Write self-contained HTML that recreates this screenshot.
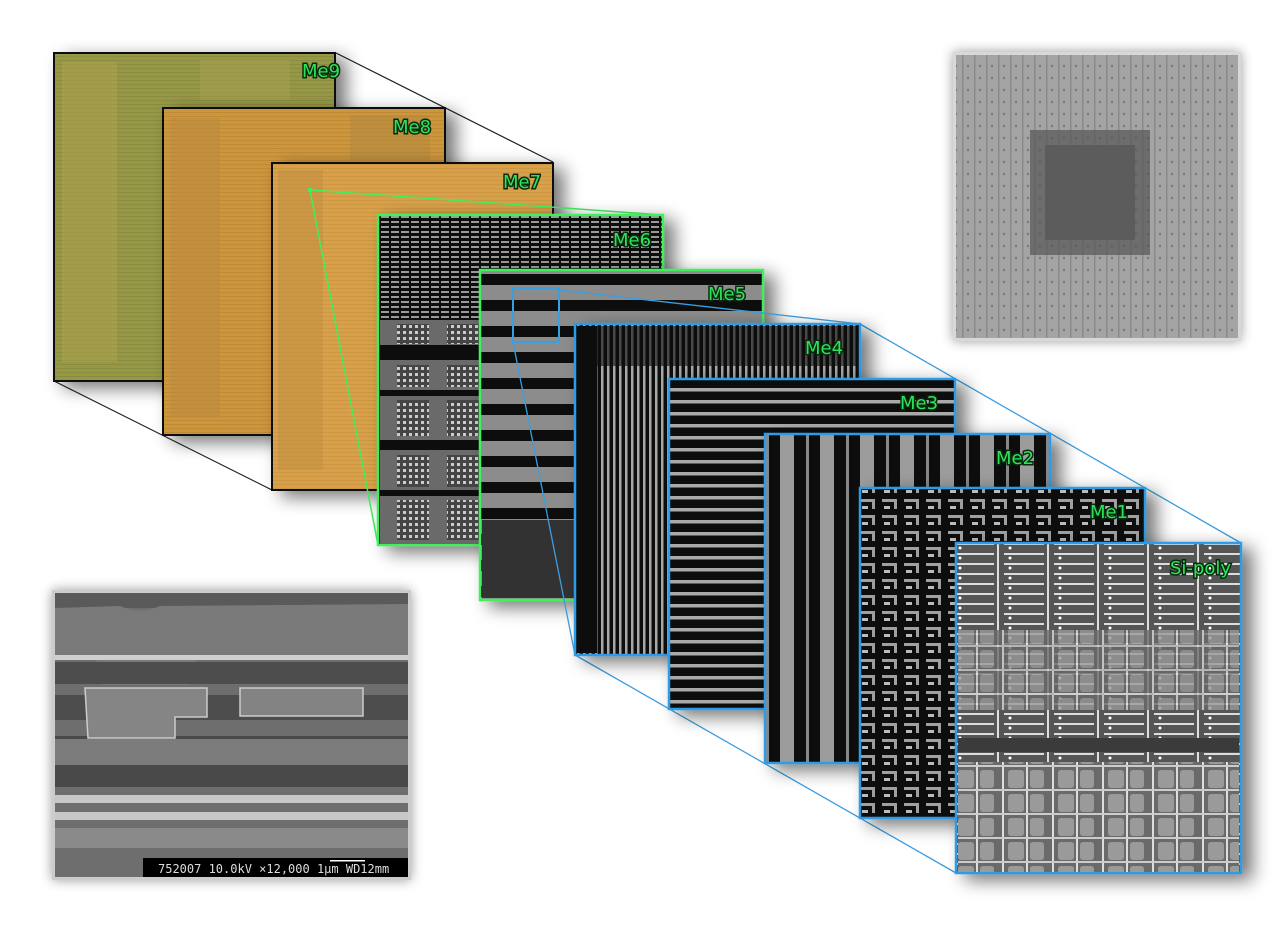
<!DOCTYPE html>
<html><head><meta charset="utf-8"><style>
html,body{margin:0;padding:0;background:#fff;}
svg{display:block;}
text{font-family:"DejaVu Sans","Liberation Sans",sans-serif;font-size:18px;fill:#2ee35a;stroke:#0a2a10;stroke-width:3px;paint-order:stroke;}
</style></head><body>
<svg width="1280" height="940" viewBox="0 0 1280 940" xmlns="http://www.w3.org/2000/svg">
<defs>
<filter id="sh" x="-20%" y="-20%" width="150%" height="150%"><feGaussianBlur in="SourceAlpha" stdDeviation="9"/><feOffset dx="10" dy="6"/><feComponentTransfer><feFuncA type="linear" slope="0.55"/></feComponentTransfer><feMerge><feMergeNode/><feMergeNode in="SourceGraphic"/></feMerge></filter>
<filter id="sh2" x="-10%" y="-10%" width="120%" height="120%"><feGaussianBlur in="SourceAlpha" stdDeviation="6"/><feComponentTransfer><feFuncA type="linear" slope="0.4"/></feComponentTransfer><feMerge><feMergeNode/><feMergeNode in="SourceGraphic"/></feMerge></filter>
<pattern id="grid9" width="4" height="4" patternUnits="userSpaceOnUse"><rect width="4" height="4" fill="#979845"/><rect width="4" height="1" fill="#8a8c40"/></pattern>
<pattern id="grid8" width="4" height="4" patternUnits="userSpaceOnUse"><rect width="4" height="4" fill="#cc963c"/><rect width="4" height="1" fill="#c08a36"/></pattern>
<pattern id="grid7" width="4" height="4" patternUnits="userSpaceOnUse"><rect width="4" height="4" fill="#d8a148"/><rect width="4" height="1" fill="#cc9642"/></pattern>
<pattern id="p6" width="10" height="5" patternUnits="userSpaceOnUse"><rect width="10" height="5" fill="#111"/><rect x="1" y="1" width="8" height="2" fill="#9a9a9a"/></pattern>
<pattern id="dots" width="6" height="6" patternUnits="userSpaceOnUse"><rect width="6" height="6" fill="#444"/><rect x="1" y="1" width="3" height="3" fill="#ccc"/></pattern>
<pattern id="p5" width="285" height="26" patternUnits="userSpaceOnUse"><rect width="285" height="26" fill="#8c8c8c"/><rect y="14" width="285" height="11" fill="#0a0a0a"/></pattern>
<pattern id="p4" width="6" height="10" patternUnits="userSpaceOnUse"><rect width="6" height="10" fill="#080808"/><rect x="1" width="2.5" height="10" fill="#a8a8a8"/></pattern>
<pattern id="p3" width="12" height="12" patternUnits="userSpaceOnUse"><rect width="12" height="12" fill="#080808"/><rect y="4" width="12" height="3.5" fill="#aaa"/></pattern>
<pattern id="p2" width="40" height="10" patternUnits="userSpaceOnUse"><rect width="40" height="10" fill="#080808"/><rect x="20" width="14" height="10" fill="#9c9c9c"/><rect x="6" width="3" height="10" fill="#888"/></pattern>
<pattern id="p1" width="22" height="16" patternUnits="userSpaceOnUse"><rect width="22" height="16" fill="#0c0c0c"/><rect x="2" y="3" width="12" height="3" fill="#a0a0a0"/><rect x="14" y="3" width="3" height="10" fill="#a0a0a0"/><rect x="4" y="10" width="6" height="3" fill="#bbb"/></pattern>
<pattern id="ps" width="50" height="24" patternUnits="userSpaceOnUse"><rect width="50" height="24" fill="#6a6a6a"/><rect x="8" y="2" width="16" height="18" rx="3" fill="#9a9a9a"/><rect x="30" y="2" width="14" height="18" rx="3" fill="#9a9a9a"/><rect x="2" width="2" height="24" fill="#ddd"/><rect x="26" width="2" height="24" fill="#ddd"/><rect y="21" width="50" height="2" fill="#ccc"/></pattern>
<pattern id="pst" width="50" height="10" patternUnits="userSpaceOnUse"><rect width="50" height="10" fill="#555"/><rect x="4" y="3" width="40" height="2" fill="#ddd"/><circle cx="10" cy="8" r="1.5" fill="#fff"/><rect x="47" width="2" height="10" fill="#ddd"/></pattern>
<pattern id="pcb" width="12" height="12" patternUnits="userSpaceOnUse"><rect width="12" height="12" fill="#a4a4a4"/><rect x="2" width="1.5" height="12" fill="#8a8a8a"/><circle cx="8" cy="6" r="1.2" fill="#777"/></pattern>
</defs>

<!-- chip photo -->
<g filter="url(#sh2)">
<rect x="953" y="52" width="288" height="289" fill="#d8d8d8"/>
<rect x="956" y="55" width="282" height="283" fill="url(#pcb)"/>
<rect x="1030" y="130" width="120" height="125" fill="#555" opacity="0.7"/>
<rect x="1045" y="145" width="90" height="95" fill="#5c5c5c"/>
</g>

<!-- SEM -->
<g filter="url(#sh2)">
<rect x="52" y="590" width="359" height="290" fill="#ccc"/>
<rect x="55" y="593" width="353" height="284" fill="#6e6e6e"/>
<rect x="55" y="593" width="353" height="15" fill="#5a5a5a"/>
<path d="M55 608 L120 606 Q140 615 160 606 L408 604 L408 655 L198 655 L190 685 L102 685 L95 655 L55 655Z" fill="#7a7a7a"/>
<rect x="55" y="655" width="353" height="5" fill="#cfcfcf"/>
<rect x="55" y="662" width="353" height="22" fill="#4e4e4e"/>
<rect x="55" y="695" width="353" height="25" fill="#4e4e4e"/>
<rect x="55" y="736" width="353" height="20" fill="#4a4a4a"/>
<path d="M85 688 L207 688 L207 717 L175 717 L175 738 L88 738 Z" fill="#858585" stroke="#ccc" stroke-width="1.5"/>
<rect x="240" y="688" width="123" height="28" fill="#838383" stroke="#ccc" stroke-width="1.5"/>
<rect x="55" y="739" width="353" height="46" fill="#7c7c7c"/>
<rect x="55" y="765" width="353" height="22" fill="#4a4a4a"/>
<rect x="55" y="795" width="353" height="8" fill="#ddd" opacity="0.8"/>
<rect x="55" y="812" width="353" height="8" fill="#ddd" opacity="0.8"/>
<rect x="55" y="828" width="353" height="20" fill="#8a8a8a"/>
<rect x="143" y="858" width="265" height="19" fill="#000"/>
<text x="158" y="873" style="font-size:12px;fill:#ddd;stroke:none;font-family:'DejaVu Sans Mono','Liberation Mono',monospace">752007 10.0kV  ×12,000   1μm WD12mm</text>
<rect x="330" y="860" width="35" height="1.5" fill="#fff"/>
</g>

<line x1="336" y1="53" x2="553" y2="162" stroke="#222" stroke-width="1.2"/>
<line x1="54" y1="381" x2="272" y2="490" stroke="#222" stroke-width="1.2"/>

<g filter="url(#sh)"><rect x="54" y="53" width="281" height="328" fill="url(#grid9)" stroke="#111" stroke-width="2"/>
<rect x="62" y="62" width="55" height="300" fill="#b6a550" opacity="0.4"/><rect x="200" y="60" width="90" height="40" fill="#a8a050" opacity="0.5"/></g>
<text x="302" y="77">Me9</text>
<g filter="url(#sh)"><rect x="163" y="108" width="282" height="327" fill="url(#grid8)" stroke="#111" stroke-width="2"/>
<rect x="170" y="118" width="50" height="300" fill="#b98a40" opacity="0.5"/><rect x="350" y="115" width="80" height="45" fill="#b08840" opacity="0.5"/></g>
<text x="393" y="133">Me8</text>
<g filter="url(#sh)"><rect x="272" y="163" width="281" height="327" fill="url(#grid7)" stroke="#111" stroke-width="2"/>
<rect x="278" y="170" width="45" height="300" fill="#c08e42" opacity="0.5"/></g>
<text x="503" y="188">Me7</text>

<line x1="310" y1="190" x2="663" y2="215" stroke="#3fef5c" stroke-width="1.5"/>
<line x1="310" y1="190" x2="378" y2="545" stroke="#3fef5c" stroke-width="1.5"/>
<rect x="308" y="188" width="4" height="4" fill="#3fef5c"/>

<g filter="url(#sh)"><rect x="378" y="215" width="285" height="330" fill="url(#p6)" stroke="#3fef5c" stroke-width="2.5"/>
<rect x="380" y="320" width="100" height="224" fill="#6a6a6a"/>
<rect x="380" y="345" width="100" height="15" fill="#111"/><rect x="380" y="390" width="100" height="6" fill="#111"/><rect x="380" y="440" width="100" height="10" fill="#111"/><rect x="380" y="490" width="100" height="6" fill="#111"/>
<rect x="397" y="324" width="32" height="20" fill="url(#dots)"/><rect x="397" y="365" width="32" height="22" fill="url(#dots)"/><rect x="397" y="400" width="32" height="36" fill="url(#dots)"/><rect x="397" y="455" width="32" height="32" fill="url(#dots)"/><rect x="397" y="500" width="32" height="40" fill="url(#dots)"/>
<rect x="447" y="324" width="32" height="20" fill="url(#dots)"/><rect x="447" y="365" width="32" height="22" fill="url(#dots)"/><rect x="447" y="400" width="32" height="36" fill="url(#dots)"/><rect x="447" y="455" width="32" height="32" fill="url(#dots)"/><rect x="447" y="500" width="32" height="40" fill="url(#dots)"/>
</g>
<text x="613" y="246">Me6</text>
<g filter="url(#sh)"><rect x="480" y="270" width="283" height="330" fill="url(#p5)" stroke="#3fef5c" stroke-width="2.5"/>
<rect x="482" y="520" width="92" height="78" fill="#333"/></g>
<text x="708" y="300">Me5</text>
<rect x="513" y="288" width="46" height="54" fill="none" stroke="#3a9ee0" stroke-width="2"/>
<line x1="559" y1="290" x2="860" y2="324" stroke="#3a9ee0" stroke-width="1.3"/>
<line x1="513" y1="342" x2="575" y2="655" stroke="#3a9ee0" stroke-width="1.3"/>
<line x1="860" y1="324" x2="1241" y2="543" stroke="#3a9ee0" stroke-width="1.3"/>
<line x1="575" y1="655" x2="956" y2="873" stroke="#3a9ee0" stroke-width="1.3"/>

<g filter="url(#sh)"><rect x="575" y="324" width="285" height="331" fill="url(#p4)" stroke="#2e9be6" stroke-width="2.5"/>
<rect x="577" y="326" width="20" height="327" fill="#0a0a0a"/><rect x="577" y="326" width="281" height="40" fill="#0a0a0a" opacity="0.6"/></g>
<text x="805" y="354">Me4</text>
<g filter="url(#sh)"><rect x="669" y="379" width="286" height="330" fill="url(#p3)" stroke="#2e9be6" stroke-width="2.5"/></g>
<text x="900" y="409">Me3</text>
<g filter="url(#sh)"><rect x="765" y="434" width="285" height="329" fill="url(#p2)" stroke="#2e9be6" stroke-width="2.5"/></g>
<text x="996" y="464">Me2</text>
<g filter="url(#sh)"><rect x="860" y="488" width="285" height="330" fill="url(#p1)" stroke="#2e9be6" stroke-width="2.5"/></g>
<text x="1090" y="518">Me1</text>
<g filter="url(#sh)"><rect x="956" y="543" width="285" height="330" fill="url(#pst)" stroke="#2e9be6" stroke-width="2.5"/>
<rect x="958" y="630" width="281" height="80" fill="url(#ps)" opacity="0.8"/>
<rect x="958" y="738" width="281" height="14" fill="#3a3a3a"/>
<rect x="958" y="762" width="281" height="110" fill="url(#ps)"/></g>
<text x="1170" y="574">Si-poly</text>
</svg>
</body></html>
